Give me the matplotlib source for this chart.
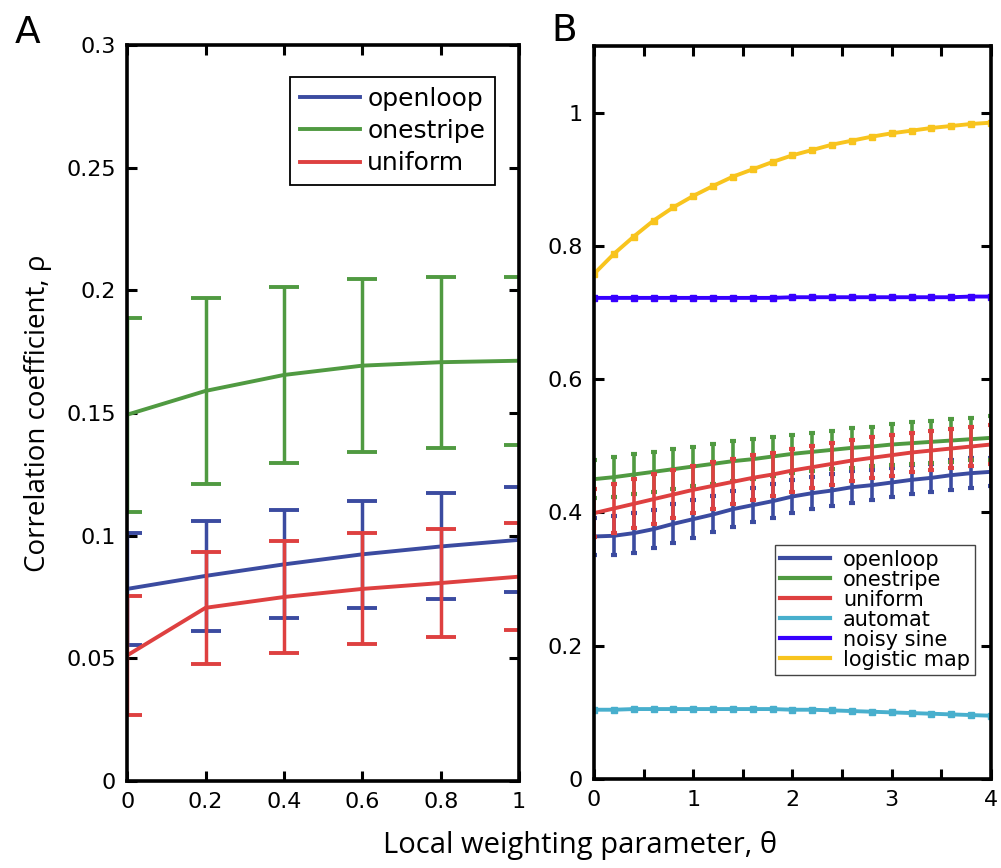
import matplotlib
matplotlib.use('Agg')
import matplotlib.pyplot as plt
from matplotlib.lines import Line2D
from matplotlib.ticker import MultipleLocator, FuncFormatter

# ── Panel A data (theta 0..1) ──
theta_a = [0.0, 0.2, 0.4, 0.6, 0.8, 1.0]
openloop_a = [0.0783, 0.0836, 0.0883, 0.0924, 0.0956, 0.0983]
openloop_a_err = [0.0228, 0.0223, 0.0220, 0.0218, 0.0216, 0.0214]
onestripe_a = [0.1493, 0.1590, 0.1655, 0.1693, 0.1707, 0.1713]
onestripe_a_err = [0.0395, 0.0379, 0.0360, 0.0352, 0.0348, 0.0342]
uniform_a = [0.0512, 0.0706, 0.0750, 0.0783, 0.0807, 0.0833]
uniform_a_err = [0.0242, 0.0229, 0.0230, 0.0226, 0.0221, 0.0217]

# ── Panel B data (theta 0..4) ──
theta_b = [0.0, 0.2, 0.4, 0.6, 0.8, 1.0, 1.2, 1.4, 1.6, 1.8, 2.0,
           2.2, 2.4, 2.6, 2.8, 3.0, 3.2, 3.4, 3.6, 3.8, 4.0]
openloop_b = [0.364, 0.365, 0.369, 0.375, 0.383, 0.390, 0.397, 0.405, 0.411, 0.417, 0.424,
              0.429, 0.433, 0.438, 0.441, 0.445, 0.449, 0.452, 0.456, 0.459, 0.461]
openloop_b_err = [0.028, 0.029, 0.030, 0.029, 0.029, 0.028, 0.027, 0.027, 0.026, 0.025, 0.025,
                  0.024, 0.024, 0.024, 0.022, 0.022, 0.022, 0.021, 0.022, 0.022, 0.021]
onestripe_b = [0.450, 0.453, 0.457, 0.461, 0.465, 0.469, 0.473, 0.477, 0.480, 0.484, 0.488,
               0.491, 0.494, 0.497, 0.499, 0.502, 0.504, 0.506, 0.508, 0.510, 0.512]
onestripe_b_err = [0.029, 0.030, 0.030, 0.030, 0.030, 0.030, 0.030, 0.030, 0.030, 0.030, 0.029,
                   0.029, 0.029, 0.030, 0.030, 0.031, 0.032, 0.032, 0.032, 0.032, 0.033]
uniform_b = [0.399, 0.406, 0.413, 0.420, 0.427, 0.434, 0.440, 0.446, 0.452, 0.457, 0.463,
             0.468, 0.473, 0.478, 0.482, 0.486, 0.490, 0.493, 0.496, 0.499, 0.502]
uniform_b_err = [0.036, 0.037, 0.037, 0.037, 0.036, 0.035, 0.035, 0.034, 0.034, 0.033, 0.033,
                 0.032, 0.032, 0.031, 0.031, 0.031, 0.030, 0.030, 0.030, 0.030, 0.030]
automat_b = [0.104, 0.104, 0.105, 0.105, 0.105, 0.105, 0.105, 0.105, 0.105, 0.105, 0.104,
             0.104, 0.103, 0.102, 0.101, 0.100, 0.099, 0.098, 0.097, 0.096, 0.095]
noisy_sine_b = [0.722, 0.722, 0.722, 0.722, 0.722, 0.722, 0.722, 0.722, 0.722, 0.722, 0.723,
                0.723, 0.723, 0.723, 0.723, 0.723, 0.723, 0.723, 0.723, 0.724, 0.724]
logistic_b = [0.758, 0.788, 0.814, 0.838, 0.858, 0.875, 0.890, 0.904, 0.915, 0.926, 0.936,
              0.944, 0.952, 0.958, 0.964, 0.969, 0.973, 0.977, 0.980, 0.983, 0.985]

C_BLUE, C_GREEN, C_RED = '#3B4BA0', '#509A41', '#DE4040'
C_CYAN, C_PURPLE, C_YELLOW = '#48AFCD', '#3700FF', '#F8C41E'

plt.rcParams['font.family'] = ['DejaVu Sans']
LABEL_FONT = ['Open Sans', 'DejaVu Sans']

fig = plt.figure(figsize=(10.01, 8.68), dpi=100)
axA = fig.add_axes([0.127, 0.1002, 0.3916, 0.848])
axB = fig.add_axes([0.5934, 0.1025, 0.3966, 0.8445])


def style_axes(ax):
    for s in ax.spines.values():
        s.set_linewidth(2.6)
    ax.tick_params(direction='in', length=7, width=2.2, top=True, right=True,
                   labelsize=16, pad=8)


# ── Panel A ──
for y, e, c, lab in [(openloop_a, openloop_a_err, C_BLUE, 'openloop'),
                     (onestripe_a, onestripe_a_err, C_GREEN, 'onestripe'),
                     (uniform_a, uniform_a_err, C_RED, 'uniform')]:
    axA.errorbar(theta_a, y, yerr=e, fmt='none', ecolor=c, elinewidth=2.5,
                 capsize=11, capthick=2.8)
    axA.plot(theta_a, y, color=c, lw=2.8, label=lab)
axA.set_xlim(0, 1)
axA.set_ylim(0, 0.3)
axA.xaxis.set_major_locator(MultipleLocator(0.2))
axA.yaxis.set_major_locator(MultipleLocator(0.05))
fmt = FuncFormatter(lambda v, p: f'{v:.2f}'.rstrip('0').rstrip('.') if v else '0')
axA.xaxis.set_major_formatter(fmt)
axA.yaxis.set_major_formatter(fmt)
style_axes(axA)
legA = axA.legend(loc='upper right', bbox_to_anchor=(0.939, 0.9565), borderaxespad=0,
                  fontsize=18, handlelength=2.4, handletextpad=0.3, labelspacing=0.33,
                  borderpad=0.4, fancybox=False, framealpha=1, edgecolor='black')
legA.get_frame().set_linewidth(1.3)
axA.set_ylabel('Correlation coefficient, ρ', fontsize=20, family=LABEL_FONT, labelpad=10)

# ── Panel B ──
for y, e, c in [(openloop_b, openloop_b_err, C_BLUE),
                (onestripe_b, onestripe_b_err, C_GREEN),
                (uniform_b, uniform_b_err, C_RED)]:
    axB.errorbar(theta_b, y, yerr=e, fmt='none', ecolor=c, elinewidth=2.6,
                 capsize=2.5, capthick=3.0)
    axB.plot(theta_b, y, color=c, lw=2.8)
for y, c in [(automat_b, C_CYAN), (noisy_sine_b, C_PURPLE), (logistic_b, C_YELLOW)]:
    axB.plot(theta_b, y, color=c, lw=2.8, marker='s', markersize=4.5)
axB.set_xlim(0, 4)
axB.set_ylim(0, 1.1)
axB.xaxis.set_major_locator(MultipleLocator(0.5))
axB.xaxis.set_major_formatter(FuncFormatter(lambda v, p: f'{v:g}' if v == int(v) else ''))
axB.yaxis.set_major_locator(MultipleLocator(0.2))
axB.yaxis.set_major_formatter(FuncFormatter(lambda v, p: f'{v:.1f}'.rstrip('0').rstrip('.') if v else '0'))
style_axes(axB)

names_b = ['openloop', 'onestripe', 'uniform', 'automat', 'noisy sine', 'logistic map']
colors_b = [C_BLUE, C_GREEN, C_RED, C_CYAN, C_PURPLE, C_YELLOW]
handles_b = [Line2D([], [], color=c, lw=3.0) for c in colors_b]
legB = axB.legend(handles_b, names_b, loc='lower right', bbox_to_anchor=(0.960, 0.142),
                  borderaxespad=0, fontsize=15, handlelength=2.4, handletextpad=0.6,
                  labelspacing=0.0, borderpad=0.25, fancybox=False, framealpha=1,
                  edgecolor='#444444')
legB.get_frame().set_linewidth(1.0)

fig.text(0.015, 0.983, 'A', fontsize=27, ha='left', va='top')
fig.text(0.551, 0.985, 'B', fontsize=27, ha='left', va='top')
fig.text(0.579, 0.009, 'Local weighting parameter, θ', fontsize=21, family=LABEL_FONT,
         ha='center', va='bottom')

fig.savefig('out.png', dpi=100)
